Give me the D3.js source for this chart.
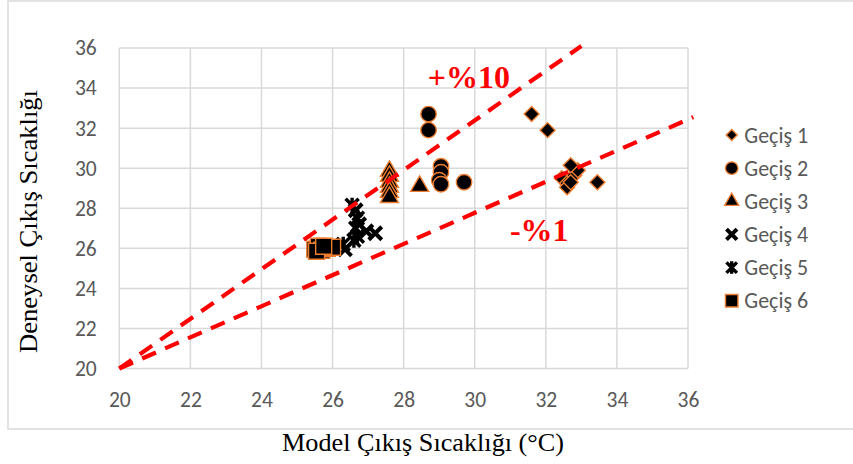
<!DOCTYPE html>
<html>
<head>
<meta charset="utf-8">
<script src="https://cdn.jsdelivr.net/npm/d3@7"></script>
<style>
  html, body { margin: 0; padding: 0; background: #fff; }
  svg { display: block; }
</style>
</head>
<body>
<svg id="chart" width="853" height="464"></svg>
<script>
// ---- data ----
const xTicks = [20, 22, 24, 26, 28, 30, 32, 34, 36];
const yTicks = [20, 22, 24, 26, 28, 30, 32, 34, 36];
const seriesNames = ["Geçiş 1", "Geçiş 2", "Geçiş 3", "Geçiş 4", "Geçiş 5", "Geçiş 6"];
const gecis1 = [[31.6, 32.7], [32.05, 31.9], [33.45, 29.3], [32.45, 29.5], [32.6, 29.25], [32.8, 29.65], [32.9, 29.9], [32.7, 30.15], [32.6, 29.05], [32.7, 29.3]];
const gecis2 = [[28.7, 32.7], [28.7, 31.9], [29.05, 30.1], [29.05, 29.8], [29.0, 29.4], [29.05, 29.2], [29.7, 29.3]];
const gecis3 = [[27.6, 29.85], [27.6, 29.6], [27.6, 29.3], [27.6, 29.05], [27.6, 28.8], [27.6, 28.55], [28.45, 29.1]];
const gecis4 = [[27.2, 26.75], [26.95, 26.85], [26.75, 27.2], [26.65, 27.9], [26.35, 25.95]];
const gecis5 = [[26.55, 28.15], [26.7, 27.5], [26.65, 27.0], [26.7, 26.6], [26.6, 26.4], [26.3, 26.2]];
const gecis6 = [[25.5, 25.95], [25.6, 26.1], [25.7, 25.9], [25.85, 26.0], [26.0, 26.05], [25.55, 25.85], [25.75, 26.1]];
const upperLine = [[20, 20], [33.0, 36.1]];
const lowerLine = [[20, 20], [36.15, 32.55]];
const annotations = [{ text: "+%10", x: 28.68, y: 34.0 }, { text: "-%1", x: 30.99, y: 26.39 }];
const xTitle = "Model Çıkış Sıcaklığı (°C)";
const yTitle = "Deneysel Çıkış Sıcaklığı";

(function () {
// ---- layout ----
const svg = d3.select("#chart");
const W = 853, H = 464;
const pLeft = 119.3, pRight = 688, pTop = 48, pBottom = 368.5;
const x = d3.scaleLinear().domain([20, 36]).range([pLeft, pRight]);
const y = d3.scaleLinear().domain([20, 36]).range([pBottom, pTop]);
const grid = "#d9d9d9";
const tickColor = "#595959";
const sansFont = "Carlito, Calibri, Lato, sans-serif";
const serifFont = "'Liberation Serif', 'Times New Roman', serif";
const orange = "#ED7D31";

svg.append("rect").attr("width", W).attr("height", H).attr("fill", "#fff");
svg.append("rect").attr("x", 8).attr("y", 1).attr("width", 870).attr("height", 428)
  .attr("fill", "none").attr("stroke", grid).attr("stroke-width", 1.5);

// gridlines
svg.append("g").selectAll("line").data(xTicks).join("line")
  .attr("x1", d => x(d)).attr("x2", d => x(d)).attr("y1", pTop).attr("y2", pBottom)
  .attr("stroke", grid).attr("stroke-width", 1.5);
svg.append("g").selectAll("line").data(yTicks).join("line")
  .attr("y1", d => y(d)).attr("y2", d => y(d)).attr("x1", pLeft).attr("x2", pRight)
  .attr("stroke", grid).attr("stroke-width", 1.5);

// axes (labels only)
const xAxis = svg.append("g").attr("transform", `translate(0,${pBottom})`)
  .call(d3.axisBottom(x).tickValues(xTicks).tickSize(0).tickPadding(23.5).tickFormat(d3.format("d")));
const yAxis = svg.append("g").attr("transform", `translate(${pLeft},0)`)
  .call(d3.axisLeft(y).tickValues(yTicks).tickSize(0).tickPadding(22.6).tickFormat(d3.format("d")));
[xAxis, yAxis].forEach(a => {
  a.select(".domain").remove();
  a.selectAll("text").attr("fill", tickColor).style("font-family", sansFont).style("font-size", "21.5px");
});

// titles
svg.append("text").attr("x", 423).attr("y", 450.5).attr("text-anchor", "middle")
  .attr("textLength", 282).attr("lengthAdjust", "spacingAndGlyphs")
  .style("font-family", serifFont).style("font-size", "25px").attr("fill", "#000").text(xTitle);
svg.append("text").attr("transform", "translate(37.3,221.5) rotate(-90)").attr("text-anchor", "middle")
  .attr("textLength", 263).attr("lengthAdjust", "spacingAndGlyphs")
  .style("font-family", serifFont).style("font-size", "26px").attr("fill", "#000").text(yTitle);

// marker drawing
function drawMarker(g, type, s) {
  if (type === 0) {
    const a = s / Math.SQRT2;
    g.append("path").attr("d", d3.symbol(d3.symbolSquare, a * a)()).attr("transform", "rotate(45)")
      .attr("fill", "#000").attr("stroke", orange).attr("stroke-width", 1.4);
  } else if (type === 1) {
    g.append("path").attr("d", d3.symbol(d3.symbolCircle, Math.PI * (s / 2) * (s / 2))())
      .attr("fill", "#000").attr("stroke", orange).attr("stroke-width", 1.4);
  } else if (type === 2) {
    g.append("path").attr("d", d3.symbol(d3.symbolTriangle, s * s * Math.sqrt(3) / 4)())
      .attr("fill", "#000").attr("stroke", orange).attr("stroke-width", 1.4);
  } else if (type === 3) {
    const h = s / 2 - 1.5;
    g.append("path").attr("d", `M${-h},${-h}L${h},${h}M${-h},${h}L${h},${-h}`)
      .attr("stroke", "#000").attr("stroke-width", 4).attr("fill", "none");
  } else if (type === 4) {
    const h = s / 2 - 1.5;
    g.append("path").attr("d", `M${-h},${-h}L${h},${h}M${-h},${h}L${h},${-h}M0,${-h - 1}L0,${h + 1}`)
      .attr("stroke", "#000").attr("stroke-width", 3.4).attr("fill", "none");
  } else {
    g.append("path").attr("d", d3.symbol(d3.symbolSquare, s * s)())
      .attr("fill", "#000").attr("stroke", orange).attr("stroke-width", 1.4);
  }
}

const allSeries = [gecis1, gecis2, gecis3, gecis4, gecis5, gecis6];
const chartSizes = [15, 15.5, 18, 16, 16, 16];
const legendSizes = [11, 12.5, 14, 13.5, 13.5, 12.5];

allSeries.forEach((data, i) => {
  const gs = svg.append("g");
  data.forEach(p => {
    const g = gs.append("g").attr("transform", `translate(${x(p[0])},${y(p[1])})`);
    drawMarker(g, i, chartSizes[i]);
  });
});

// reference lines
const line = d3.line().x(d => x(d[0])).y(d => y(d[1]));
[upperLine, lowerLine].forEach(l => {
  svg.append("path").attr("d", line(l)).attr("fill", "none")
    .attr("stroke", "#FF0000").attr("stroke-width", 4.2).attr("stroke-dasharray", "15,10");
});

// annotations
svg.append("g").selectAll("text").data(annotations).join("text")
  .attr("x", d => x(d.x)).attr("y", d => y(d.y))
  .style("font-family", serifFont).style("font-size", "32px").style("font-weight", "bold")
  .attr("fill", "#FF0000").text(d => d.text);

// legend
const legend = svg.append("g");
seriesNames.forEach((name, i) => {
  const cy = 135 + i * 33.15;
  const g = legend.append("g").attr("transform", `translate(731.7,${cy})`);
  drawMarker(g, i, legendSizes[i]);
  legend.append("text").attr("x", 744.3).attr("y", cy).attr("dy", "0.35em")
    .style("font-family", sansFont).style("font-size", "22px").attr("fill", tickColor).text(name);
});
})();
</script>
</body>
</html>
